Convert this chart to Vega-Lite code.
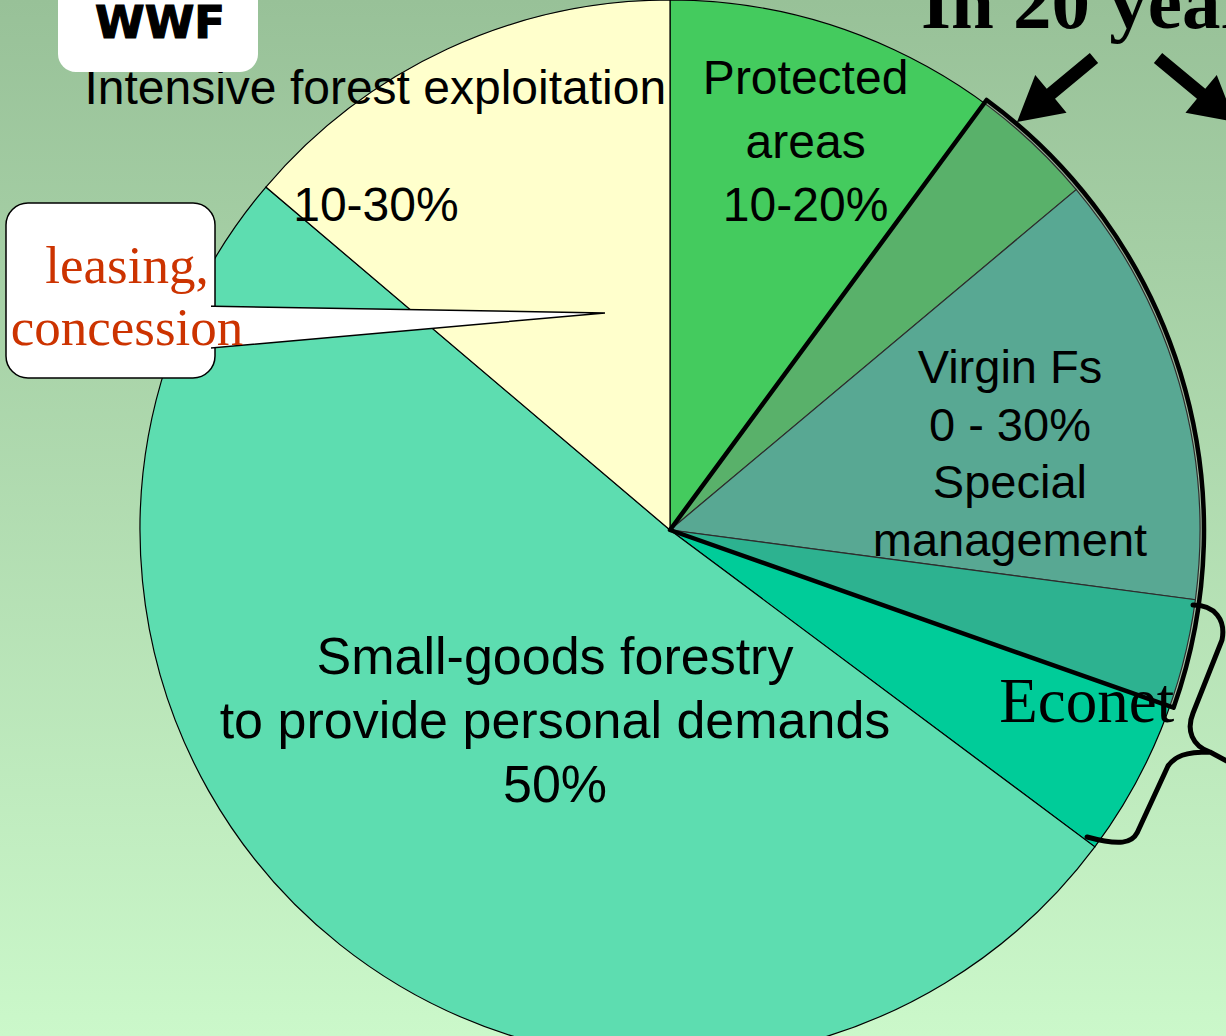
{
  "$schema": "https://vega.github.io/schema/vega-lite/v6.json",
  "width": 1226,
  "height": 1036,
  "autosize": "none",
  "padding": 0,
  "config": {"view": {"stroke": null}},
  "datasets": {
    "slices": [
      {"cat": "Protected areas", "share": 13.9, "ord": 1, "label": "Protected\nareas\n10-20%", "heading": ""},
      {"cat": "Virgin forests", "share": 13.2, "ord": 2, "label": "Virgin Fs\n0 - 30%\nSpecial\nmanagement", "heading": ""},
      {"cat": "Econet", "share": 8.1, "ord": 3, "label": "Econet", "heading": ""},
      {"cat": "Small-goods forestry", "share": 51.0, "ord": 4, "label": "Small-goods forestry\nto provide personal demands\n50%", "heading": ""},
      {"cat": "Intensive forest exploitation", "share": 13.8, "ord": 5, "label": "10-30%", "heading": "Intensive forest exploitation"}
    ],
    "overlay": [
      {"part": "before", "span": 10.1, "ord": 1},
      {"part": "projection", "span": 20.3, "ord": 2},
      {"part": "after", "span": 69.6, "ord": 3}
    ],
    "one": [{}]
  },
  "layer": [
    {
      "data": {"name": "one"},
      "mark": {"type": "rect", "color": {"gradient": "linear", "x1": 0, "y1": 0, "x2": 0, "y2": 1, "stops": [{"offset": 0, "color": "#98c198"}, {"offset": 1, "color": "#cbf8ca"}]}},
      "encoding": {}
    },
    {
      "data": {"name": "slices"},
      "mark": {"type": "arc", "outerRadius": 530, "stroke": "#000000", "strokeWidth": 1.2},
      "encoding": {
        "theta": {"field": "share", "type": "quantitative", "stack": true, "scale": {"domain": [0, 100]}},
        "order": {"field": "ord", "type": "quantitative"},
        "color": {"field": "cat", "type": "nominal", "legend": null, "scale": {"domain": ["Protected areas", "Virgin forests", "Econet", "Small-goods forestry", "Intensive forest exploitation"], "range": ["#44cb5e", "#42be9d", "#00cc99", "#5dddb0", "#ffffcc"]}},
        "x": {"datum": 67.0, "type": "quantitative", "axis": null, "scale": {"domain": [0, 122.6], "nice": false, "zero": false}},
        "y": {"datum": 53.0, "type": "quantitative", "axis": null, "scale": {"domain": [0, 103.6], "nice": false, "zero": false, "reverse": true}}
      }
    },
    {
      "data": {"name": "overlay"},
      "mark": {"type": "arc", "outerRadius": 534, "stroke": "#000000", "strokeWidth": 4.5, "strokeJoin": "round", "fill": "#808080"},
      "encoding": {
        "theta": {"field": "span", "type": "quantitative", "stack": true, "scale": {"domain": [0, 100]}},
        "order": {"field": "ord", "type": "quantitative"},
        "detail": {"field": "part", "type": "nominal"},
        "fillOpacity": {"condition": {"test": "datum.part === 'projection'", "value": 0.35}, "value": 0},
        "strokeOpacity": {"condition": {"test": "datum.part === 'projection'", "value": 1}, "value": 0},
        "x": {"datum": 67.0, "type": "quantitative", "axis": null, "scale": {"domain": [0, 122.6], "nice": false, "zero": false}},
        "y": {"datum": 53.0, "type": "quantitative", "axis": null, "scale": {"domain": [0, 103.6], "nice": false, "zero": false, "reverse": true}}
      }
    },
    {
      "data": {"name": "slices"},
      "mark": {"type": "text", "radius": 427, "dx": -45, "dy": -63, "font": "Liberation Sans", "fontSize": 48, "lineHeight": 63.5, "lineBreak": "\n", "align": "center", "baseline": "middle", "color": "#000000"},
      "encoding": {
        "theta": {"field": "share", "type": "quantitative", "stack": true, "scale": {"domain": [0, 100]}},
        "order": {"field": "ord", "type": "quantitative"},
        "detail": {"field": "cat", "type": "nominal"},
        "text": {"condition": {"test": "datum.cat === 'Protected areas'", "field": "label"}, "value": ""},
        "x": {"datum": 67.0, "type": "quantitative", "axis": null, "scale": {"domain": [0, 122.6], "nice": false, "zero": false}},
        "y": {"datum": 53.0, "type": "quantitative", "axis": null, "scale": {"domain": [0, 103.6], "nice": false, "zero": false, "reverse": true}}
      }
    },
    {
      "data": {"name": "slices"},
      "mark": {"type": "text", "radius": 354, "dy": -62, "font": "Liberation Sans", "fontSize": 47, "lineHeight": 57.5, "lineBreak": "\n", "align": "center", "baseline": "middle", "color": "#000000"},
      "encoding": {
        "theta": {"field": "share", "type": "quantitative", "stack": true, "scale": {"domain": [0, 100]}},
        "order": {"field": "ord", "type": "quantitative"},
        "detail": {"field": "cat", "type": "nominal"},
        "text": {"condition": {"test": "datum.cat === 'Virgin forests'", "field": "label"}, "value": ""},
        "x": {"datum": 67.0, "type": "quantitative", "axis": null, "scale": {"domain": [0, 122.6], "nice": false, "zero": false}},
        "y": {"datum": 53.0, "type": "quantitative", "axis": null, "scale": {"domain": [0, 103.6], "nice": false, "zero": false, "reverse": true}}
      }
    },
    {
      "data": {"name": "slices"},
      "mark": {"type": "text", "radius": 450, "dy": 3, "font": "Liberation Serif", "fontSize": 63, "align": "center", "baseline": "middle", "color": "#000000"},
      "encoding": {
        "theta": {"field": "share", "type": "quantitative", "stack": true, "scale": {"domain": [0, 100]}},
        "order": {"field": "ord", "type": "quantitative"},
        "detail": {"field": "cat", "type": "nominal"},
        "text": {"condition": {"test": "datum.cat === 'Econet'", "field": "label"}, "value": ""},
        "x": {"datum": 67.0, "type": "quantitative", "axis": null, "scale": {"domain": [0, 122.6], "nice": false, "zero": false}},
        "y": {"datum": 53.0, "type": "quantitative", "axis": null, "scale": {"domain": [0, 103.6], "nice": false, "zero": false, "reverse": true}}
      }
    },
    {
      "data": {"name": "slices"},
      "mark": {"type": "text", "radius": 224, "dx": 24.5, "dy": -47, "font": "Liberation Sans", "fontSize": 52, "lineHeight": 64, "lineBreak": "\n", "align": "center", "baseline": "middle", "color": "#000000"},
      "encoding": {
        "theta": {"field": "share", "type": "quantitative", "stack": true, "scale": {"domain": [0, 100]}},
        "order": {"field": "ord", "type": "quantitative"},
        "detail": {"field": "cat", "type": "nominal"},
        "text": {"condition": {"test": "datum.cat === 'Small-goods forestry'", "field": "label"}, "value": ""},
        "x": {"datum": 67.0, "type": "quantitative", "axis": null, "scale": {"domain": [0, 122.6], "nice": false, "zero": false}},
        "y": {"datum": 53.0, "type": "quantitative", "axis": null, "scale": {"domain": [0, 103.6], "nice": false, "zero": false, "reverse": true}}
      }
    },
    {
      "data": {"name": "slices"},
      "mark": {"type": "text", "radius": 356, "dx": -144.5, "font": "Liberation Sans", "fontSize": 48, "align": "center", "baseline": "middle", "color": "#000000"},
      "encoding": {
        "theta": {"field": "share", "type": "quantitative", "stack": true, "scale": {"domain": [0, 100]}},
        "order": {"field": "ord", "type": "quantitative"},
        "detail": {"field": "cat", "type": "nominal"},
        "text": {"condition": {"test": "datum.cat === 'Intensive forest exploitation'", "field": "label"}, "value": ""},
        "x": {"datum": 67.0, "type": "quantitative", "axis": null, "scale": {"domain": [0, 122.6], "nice": false, "zero": false}},
        "y": {"datum": 53.0, "type": "quantitative", "axis": null, "scale": {"domain": [0, 103.6], "nice": false, "zero": false, "reverse": true}}
      }
    },
    {
      "data": {"name": "slices"},
      "mark": {"type": "text", "radius": 485, "dx": -91, "font": "Liberation Sans", "fontSize": 48, "align": "center", "baseline": "middle", "color": "#000000"},
      "encoding": {
        "theta": {"field": "share", "type": "quantitative", "stack": true, "scale": {"domain": [0, 100]}},
        "order": {"field": "ord", "type": "quantitative"},
        "detail": {"field": "cat", "type": "nominal"},
        "text": {"field": "heading"},
        "x": {"datum": 67.0, "type": "quantitative", "axis": null, "scale": {"domain": [0, 122.6], "nice": false, "zero": false}},
        "y": {"datum": 53.0, "type": "quantitative", "axis": null, "scale": {"domain": [0, 103.6], "nice": false, "zero": false, "reverse": true}}
      }
    },
    {
      "data": {"name": "one"},
      "mark": {"type": "rect", "fill": "#ffffff", "stroke": "#000000", "strokeWidth": 1.5, "cornerRadius": 22},
      "encoding": {
        "x": {"datum": 0.6, "type": "quantitative", "axis": null, "scale": {"domain": [0, 122.6], "nice": false, "zero": false}},
        "x2": {"datum": 21.5},
        "y": {"datum": 20.3, "type": "quantitative", "axis": null, "scale": {"domain": [0, 103.6], "nice": false, "zero": false, "reverse": true}},
        "y2": {"datum": 37.8}
      }
    },
    {
      "data": {"name": "one"},
      "mark": {"type": "point", "shape": "M -0.9756 -0.0341 L 1 0 L -0.9756 0.1756 Z", "size": 168100, "filled": true, "fill": "#ffffff", "stroke": "#000000", "strokeWidth": 1.5, "opacity": 1, "fillOpacity": 1, "strokeOpacity": 1},
      "encoding": {
        "x": {"datum": 40.0, "type": "quantitative", "axis": null, "scale": {"domain": [0, 122.6], "nice": false, "zero": false}},
        "y": {"datum": 31.3, "type": "quantitative", "axis": null, "scale": {"domain": [0, 103.6], "nice": false, "zero": false, "reverse": true}}
      }
    },
    {
      "data": {"name": "one"},
      "mark": {"type": "rect", "fill": "#ffffff", "cornerRadius": 19},
      "encoding": {
        "x": {"datum": 1.0, "type": "quantitative", "axis": null, "scale": {"domain": [0, 122.6], "nice": false, "zero": false}},
        "x2": {"datum": 21.1},
        "y": {"datum": 20.7, "type": "quantitative", "axis": null, "scale": {"domain": [0, 103.6], "nice": false, "zero": false, "reverse": true}},
        "y2": {"datum": 37.4}
      }
    },
    {
      "data": {"name": "one"},
      "mark": {"type": "text", "font": "Liberation Serif", "fontSize": 53, "lineHeight": 62, "align": "center", "baseline": "alphabetic", "color": "#cc3300"},
      "encoding": {
        "text": {"value": ["leasing,", "concession"]},
        "x": {"datum": 12.7, "type": "quantitative", "axis": null, "scale": {"domain": [0, 122.6], "nice": false, "zero": false}},
        "y": {"datum": 28.3, "type": "quantitative", "axis": null, "scale": {"domain": [0, 103.6], "nice": false, "zero": false, "reverse": true}}
      }
    },
    {
      "data": {"name": "one"},
      "mark": {"type": "rect", "fill": "#ffffff", "cornerRadius": 18},
      "encoding": {
        "x": {"datum": 5.8, "type": "quantitative", "axis": null, "scale": {"domain": [0, 122.6], "nice": false, "zero": false}},
        "x2": {"datum": 25.8},
        "y": {"datum": -2.0, "type": "quantitative", "axis": null, "scale": {"domain": [0, 103.6], "nice": false, "zero": false, "reverse": true}},
        "y2": {"datum": 7.2}
      }
    },
    {
      "data": {"name": "one"},
      "mark": {"type": "text", "font": "DejaVu Sans", "fontWeight": "bold", "fontSize": 45, "align": "center", "baseline": "alphabetic", "color": "#000000", "stroke": "#000000", "strokeWidth": 1.2},
      "encoding": {
        "text": {"value": "WWF"},
        "x": {"datum": 16.0, "type": "quantitative", "axis": null, "scale": {"domain": [0, 122.6], "nice": false, "zero": false}},
        "y": {"datum": 3.75, "type": "quantitative", "axis": null, "scale": {"domain": [0, 103.6], "nice": false, "zero": false, "reverse": true}}
      }
    },
    {
      "data": {"name": "one"},
      "mark": {"type": "text", "font": "Liberation Serif", "fontWeight": "bold", "fontSize": 77, "align": "left", "baseline": "alphabetic", "color": "#000000"},
      "encoding": {
        "text": {"value": "In 20 years"},
        "x": {"datum": 92.1, "type": "quantitative", "axis": null, "scale": {"domain": [0, 122.6], "nice": false, "zero": false}},
        "y": {"datum": 2.8, "type": "quantitative", "axis": null, "scale": {"domain": [0, 103.6], "nice": false, "zero": false, "reverse": true}}
      }
    },
    {
      "data": {"name": "one"},
      "mark": {"type": "point", "shape": "M -1 -0.13 L 0.12 -0.13 L 0.12 -0.49 L 1 0 L 0.12 0.49 L 0.12 0.13 L -1 0.13 Z", "size": 10000, "angle": 140.3, "filled": true, "color": "#000000", "opacity": 1},
      "encoding": {
        "x": {"datum": 105.55, "type": "quantitative", "axis": null, "scale": {"domain": [0, 122.6], "nice": false, "zero": false}},
        "y": {"datum": 9.0, "type": "quantitative", "axis": null, "scale": {"domain": [0, 103.6], "nice": false, "zero": false, "reverse": true}}
      }
    },
    {
      "data": {"name": "one"},
      "mark": {"type": "point", "shape": "M -1 -0.13 L 0.12 -0.13 L 0.12 -0.49 L 1 0 L 0.12 0.49 L 0.12 0.13 L -1 0.13 Z", "size": 10000, "angle": 39.7, "filled": true, "color": "#000000", "opacity": 1},
      "encoding": {
        "x": {"datum": 119.65, "type": "quantitative", "axis": null, "scale": {"domain": [0, 122.6], "nice": false, "zero": false}},
        "y": {"datum": 9.0, "type": "quantitative", "axis": null, "scale": {"domain": [0, 103.6], "nice": false, "zero": false, "reverse": true}}
      }
    },
    {
      "data": {"name": "one"},
      "mark": {"type": "point", "shape": "M 0.236 -0.857 C 0.393 -0.857 0.471 -0.75 0.443 -0.607 L 0.236 -0.086 C 0.186 0.036 0.229 0.15 0.357 0.193 L 0.571 0.307 M 0.357 0.193 C 0.179 0.193 0.107 0.221 0.057 0.293 L -0.164 0.771 C -0.2 0.843 -0.286 0.864 -0.521 0.8", "size": 78400, "filled": false, "stroke": "#000000", "strokeWidth": 5, "strokeCap": "round", "strokeJoin": "round", "opacity": 1},
      "encoding": {
        "x": {"datum": 116.0, "type": "quantitative", "axis": null, "scale": {"domain": [0, 122.6], "nice": false, "zero": false}},
        "y": {"datum": 72.5, "type": "quantitative", "axis": null, "scale": {"domain": [0, 103.6], "nice": false, "zero": false, "reverse": true}}
      }
    }
  ]
}
